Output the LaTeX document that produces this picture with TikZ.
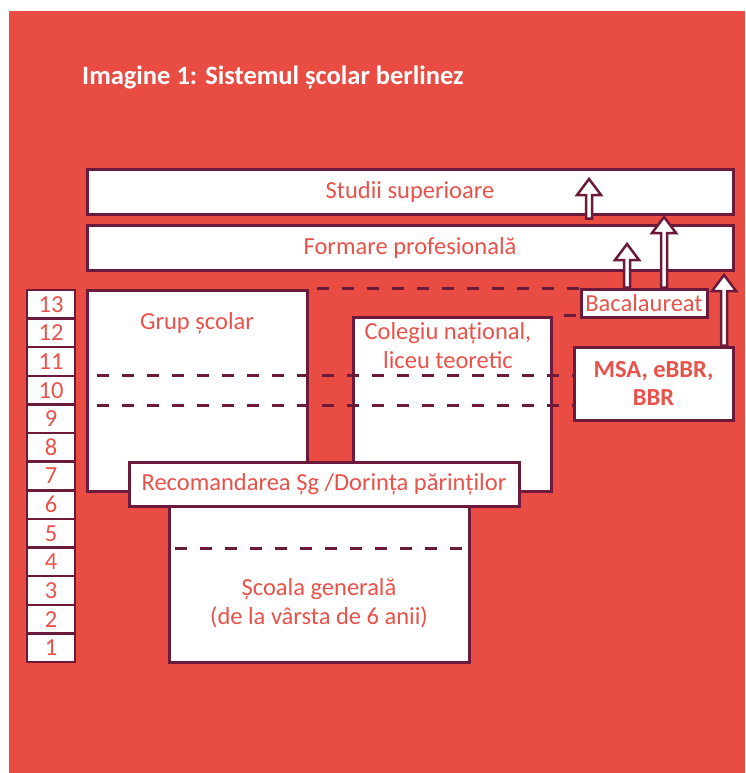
\documentclass[tikz,border=0pt]{standalone}
\usepackage{fontspec}
\setmainfont{Carlito}
\usetikzlibrary{calc}

\definecolor{bgred}{HTML}{E84C43}
\definecolor{txtred}{HTML}{E9524A}
\definecolor{maroon}{HTML}{6B1A3B}

\newcommand{\hollowarrow}[2]{%
    \draw[hollow arrow] let \p1 = (#1), \p2 = (#2) in
        (\x1-3pt,\y1) -- (\x1-3pt,\y2-16pt) -- (\x1-12pt,\y2-16pt) -- (\x2,\y2)
        -- (\x1+12pt,\y2-16pt) -- (\x1+3pt,\y2-16pt) -- (\x1+3pt,\y1) -- cycle;
}

\tikzset{
    box/.style = {
        draw = maroon,
        line width = 3pt,
        fill = white,
        text = txtred,
        inner sep = 0pt,
        font = \fontsize{24.5}{29}\selectfont,
        align = center,
        },
    grade/.style = {
        box,
        line width = 2.5pt,
        minimum width = 48pt,
        minimum height = 28.615pt,
        },
    boxlabel/.style = {
        text = txtred,
        inner sep = 0pt,
        font = \fontsize{24.5}{29}\selectfont,
        align = center,
        anchor = center,
        },
    level/.style = {
        draw = maroon,
        line width = 3pt,
        dash pattern = on 12pt off 13pt,
        },
    hollow arrow/.style = {
        draw = maroon,
        line width = 2.5pt,
        fill = white,
        },
}

\begin{document}
\begin{tikzpicture}[x=1pt, y=-1pt]
    \useasboundingbox (0,0) rectangle (745,773);
    \fill[white] (0,0) rectangle (745,773);
    \fill[bgred] (9,11) rectangle (745,773);

    \node[anchor=base west, text=white, inner sep=0pt, font=\bfseries\fontsize{26.5}{31}\selectfont] (title) at (82,85) {Imagine 1: Sistemul școlar berlinez};

    \node[box, minimum width=646pt, minimum height=45pt] (studii) at (410,191.5) {Studii superioare};
    \node[box, minimum width=646pt, minimum height=45pt] (formare) at (410,247.5) {Formare profesională};

    \foreach \n in {1,...,13}
        \node[grade] (g\n) at (51,{662-(\n-0.5)*28.615}) {\n};

    \node[box, minimum width=126pt, minimum height=28pt] (bac) at (644,303) {Bacalaureat};
    \node[box, minimum width=159pt, minimum height=73pt, font=\bfseries\fontsize{24.5}{28}\selectfont] (msa) at (653.5,383.5) {MSA, eBBR,\\BBR};

    \node[box, minimum width=220pt, minimum height=201pt,
        label={[boxlabel, yshift=-35pt]north:Grup școlar}] (grup) at (197,390.5) {};
    \node[box, minimum width=198pt, minimum height=174pt,
        label={[boxlabel, xshift=-4pt, yshift=-30pt]north:{Colegiu național,\\liceu teoretic}}] (colegiu) at (452,404) {};

    \coordinate (l11) at (97,375);
    \coordinate (l10) at (97,405);
    \draw[level] (l11) -- (l11 -| msa.west);
    \draw[level] (l10) -- (l10 -| msa.west);
    \draw[level, dash phase=17pt] (grup.north east) -- (grup.north east -| bac.west);
    \draw[level, dash phase=14pt] (colegiu.north east) -- (colegiu.north east -| bac.west);

    \node[box, minimum width=300pt, minimum height=170pt,
        label={[boxlabel, yshift=60pt]south:{Școala generală\\(de la vârsta de 6 anii)}}] (scoala) at (319,577) {};
    \coordinate (l5) at (175,548);
    \draw[level] (l5) -- (l5 -| scoala.east);

    \node[box, minimum width=390pt, minimum height=44pt] (recom) at (324,484) {Recomandarea Șg /Dorința părinților};

    \coordinate (tip1) at (589,179);
    \coordinate (tip2) at (664,217);
    \coordinate (tip3) at (627,244);
    \coordinate (tip4) at (724,275);
    \hollowarrow{$(formare.north -| tip1)+(0,-5)$}{tip1}
    \hollowarrow{bac.north -| tip2}{tip2}
    \hollowarrow{bac.north -| tip3}{tip3}
    \hollowarrow{msa.north -| tip4}{tip4}
\end{tikzpicture}
\end{document}
